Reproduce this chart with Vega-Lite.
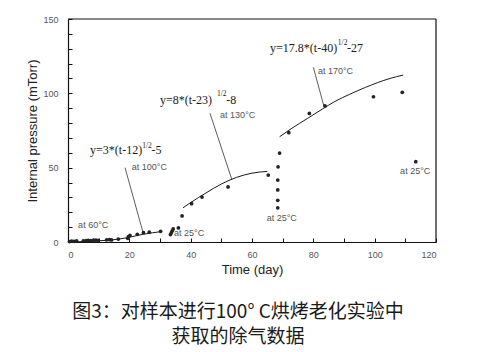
{
  "$schema": "https://vega.github.io/schema/vega-lite/v6.json",
  "width": 368,
  "height": 223,
  "autosize": "none",
  "padding": {"left": 68, "top": 19, "right": 64, "bottom": 110},
  "background": "#ffffff",
  "config": {
    "view": {"stroke": null},
    "axis": {"domain": true, "domainColor": "#111111", "domainWidth": 1.2, "tickColor": "#111111", "grid": false, "labelColor": "#555555", "labelFont": "Liberation Sans", "labelFontSize": 9, "titleFont": "Liberation Sans", "titleFontSize": 13, "titleFontWeight": "normal", "titleColor": "#222222"}
  },
  "title": {
    "text": ["图3：对样本进行100°  C烘烤老化实验中", "获取的除气数据"],
    "orient": "bottom",
    "anchor": "middle",
    "dx": -14,
    "offset": 27,
    "font": "Noto Sans CJK SC",
    "fontSize": 19,
    "fontWeight": "normal",
    "lineHeight": 25,
    "color": "#1a1a1a"
  },
  "datasets": {
    "pts": [
      {"t": 0.5, "p": 0.3}, {"t": 1.2, "p": 0.6}, {"t": 2, "p": 0.5}, {"t": 2.8, "p": 0.8},
      {"t": 5, "p": 0.8}, {"t": 5.9, "p": 1}, {"t": 6.6, "p": 1.1}, {"t": 7.4, "p": 1},
      {"t": 8.3, "p": 1.2}, {"t": 9.1, "p": 1.3}, {"t": 9.9, "p": 1.1}, {"t": 12.6, "p": 1.5},
      {"t": 13.5, "p": 1.6}, {"t": 14.2, "p": 1.4}, {"t": 16.4, "p": 2}, {"t": 19.5, "p": 2.5},
      {"t": 19.7, "p": 3.6}, {"t": 20.2, "p": 4.4}, {"t": 22.6, "p": 5.2}, {"t": 24.6, "p": 6.3},
      {"t": 26.5, "p": 6.6}, {"t": 30.2, "p": 7.2}, {"t": 33.4, "p": 5}, {"t": 33.7, "p": 6.3},
      {"t": 34, "p": 7.5}, {"t": 34.3, "p": 8.8}, {"t": 36, "p": 9.5}, {"t": 37.2, "p": 17.5},
      {"t": 40.3, "p": 25.8}, {"t": 43.7, "p": 30.2}, {"t": 52.2, "p": 37}, {"t": 65.3, "p": 45},
      {"t": 68.4, "p": 23}, {"t": 68.4, "p": 28}, {"t": 68.4, "p": 35}, {"t": 68.4, "p": 41.7},
      {"t": 68.5, "p": 50.6}, {"t": 69.0, "p": 59.8}, {"t": 72, "p": 73.5}, {"t": 78.7, "p": 86.5},
      {"t": 83.8, "p": 91.5}, {"t": 99.6, "p": 97.7}, {"t": 109, "p": 100.7}, {"t": 113.4, "p": 54}
    ],
    "fits": [
      {"fit": "a", "t": 0, "p": 0}, {"fit": "a", "t": 10, "p": 0.8}, {"fit": "a", "t": 16, "p": 1.8},
      {"fit": "a", "t": 20, "p": 3.2}, {"fit": "a", "t": 24.5, "p": 5.2}, {"fit": "a", "t": 30.5, "p": 7},
      {"fit": "b", "t": 37.5, "p": 23}, {"fit": "b", "t": 40, "p": 26.5}, {"fit": "b", "t": 45, "p": 33},
      {"fit": "b", "t": 50, "p": 39}, {"fit": "b", "t": 55, "p": 43.5}, {"fit": "b", "t": 60, "p": 46.3},
      {"fit": "b", "t": 65, "p": 47.5},
      {"fit": "c", "t": 69, "p": 70.8}, {"fit": "c", "t": 73, "p": 76.5}, {"fit": "c", "t": 78, "p": 83},
      {"fit": "c", "t": 83, "p": 89.5}, {"fit": "c", "t": 87, "p": 94.5}, {"fit": "c", "t": 92, "p": 99.5},
      {"fit": "c", "t": 97, "p": 104}, {"fit": "c", "t": 105, "p": 110}, {"fit": "c", "t": 109.3, "p": 112.3}
    ],
    "leaders": [
      {"t": 18.6, "p": 50.0, "t2": 24.4, "p2": 6.9},
      {"t": 46.3, "p": 86.6, "t2": 53.4, "p2": 42.2},
      {"t": 80.0, "p": 117.5, "t2": 83.5, "p2": 91.0}
    ],
    "frame": [
      {"t": 0, "p": 150, "t2": 120, "p2": 150},
      {"t": 120, "p": 0, "t2": 120, "p2": 150}
    ],
    "formulas": [
      {"part": "main", "t": 65.9, "p": 128.0, "s": "y=17.8*(t-40)"},
      {"part": "sup", "t": 88.0, "p": 132.8, "s": "1/2"},
      {"part": "main", "t": 91.0, "p": 128.0, "s": "-27"},
      {"part": "main", "t": 30.0, "p": 92.6, "s": "y=8*(t-23)"},
      {"part": "sup", "t": 48.6, "p": 98.4, "s": "1/2"},
      {"part": "main", "t": 51.6, "p": 92.6, "s": "-8"},
      {"part": "main", "t": 7.2, "p": 59.0, "s": "y=3*(t-12)"},
      {"part": "sup", "t": 24.2, "p": 63.0, "s": "1/2"},
      {"part": "main", "t": 27.2, "p": 59.0, "s": "-5"}
    ],
    "notes": [
      {"t": 81.5, "p": 113.0, "s": "at 170°C"},
      {"t": 49.6, "p": 83.2, "s": "at 130°C"},
      {"t": 20.8, "p": 48.4, "s": "at 100°C"},
      {"t": 3.3, "p": 9.1, "s": "at 60°C"},
      {"t": 34.6, "p": 3.7, "s": "at 25°C"},
      {"t": 64.8, "p": 14.3, "s": "at 25°C"},
      {"t": 108.3, "p": 45.7, "s": "at 25°C"}
    ]
  },
  "encoding": {
    "x": {
      "field": "t", "type": "quantitative",
      "scale": {"domain": [0, 120], "nice": false},
      "axis": {
        "title": "Time (day)",
        "values": [0, 10, 20, 30, 40, 50, 60, 70, 80, 90, 100, 110, 120],
        "labelExpr": "datum.value % 20 === 0 ? datum.label : ''",
        "tickSize": -4,
        "labelPadding": 12,
        "titlePadding": 4
      }
    },
    "y": {
      "field": "p", "type": "quantitative",
      "scale": {"domain": [0, 150], "nice": false},
      "axis": {
        "title": "Internal pressure (mTorr)",
        "values": [0, 10, 20, 30, 40, 50, 60, 70, 80, 90, 100, 110, 120, 130, 140, 150],
        "labelExpr": "datum.value % 50 === 0 ? datum.label : ''",
        "tickSize": -4,
        "labelPadding": 14,
        "titlePadding": 3
      }
    }
  },
  "layer": [
    {
      "data": {"name": "frame"},
      "mark": {"type": "rule", "color": "#111111", "strokeWidth": 1.2},
      "encoding": {"x2": {"field": "t2"}, "y2": {"field": "p2"}}
    },
    {
      "data": {"name": "fits"},
      "mark": {"type": "line", "color": "#1a1a1a", "strokeWidth": 1, "interpolate": "monotone"},
      "encoding": {"detail": {"field": "fit"}}
    },
    {
      "data": {"name": "leaders"},
      "mark": {"type": "rule", "color": "#333333", "strokeWidth": 0.8},
      "encoding": {"x2": {"field": "t2"}, "y2": {"field": "p2"}}
    },
    {
      "data": {"name": "pts"},
      "mark": {"type": "point", "filled": true, "shape": "circle", "size": 14, "color": "#222222", "opacity": 1}
    },
    {
      "data": {"name": "formulas"},
      "transform": [{"filter": "datum.part === 'main'"}],
      "mark": {"type": "text", "align": "left", "baseline": "alphabetic", "font": "Liberation Serif", "fontSize": 12, "color": "#1a1a1a"},
      "encoding": {"text": {"field": "s"}}
    },
    {
      "data": {"name": "formulas"},
      "transform": [{"filter": "datum.part === 'sup'"}],
      "mark": {"type": "text", "align": "left", "baseline": "alphabetic", "font": "Liberation Serif", "fontSize": 7.5, "color": "#1a1a1a"},
      "encoding": {"text": {"field": "s"}}
    },
    {
      "data": {"name": "notes"},
      "mark": {"type": "text", "align": "left", "baseline": "alphabetic", "font": "Liberation Sans", "fontSize": 9, "color": "#555555"},
      "encoding": {"text": {"field": "s"}}
    }
  ]
}
